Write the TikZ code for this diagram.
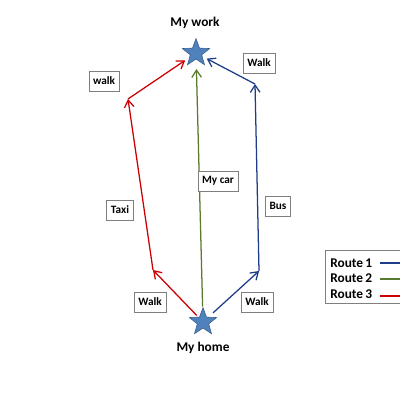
\documentclass[tikz,border=0pt]{standalone}
\usepackage{fontspec}
\setmainfont{Carlito}
\usetikzlibrary{shapes.geometric,arrows.meta}
\definecolor{starblue}{HTML}{4F81BD}
\definecolor{stardark}{HTML}{385D8A}
\definecolor{routeblue}{HTML}{1F3C88}
\definecolor{routegreen}{HTML}{5A7A2E}
\definecolor{routered}{HTML}{CC0000}
\definecolor{boxgray}{HTML}{7F7F7F}
\begin{document}
\begin{tikzpicture}[x=0.025cm,y=-0.025cm,
	place/.style={star,star points=5,star point ratio=2.4,minimum size=7.2mm,inner sep=0pt,fill=starblue,draw=stardark},
	tag/.style={draw=boxgray,fill=white,font=\fontsize{8}{9}\selectfont\bfseries,inner sep=3pt,minimum height=5mm},
	title/.style={font=\fontsize{9.5}{11}\selectfont\bfseries},
	route/.style={line width=0.9pt,-{Straight Barb[length=1.8mm,width=2.4mm]}}]
	\useasboundingbox (0,0) rectangle (400,400);
	\clip (0,0) rectangle (400,400);
	
	% the two places
	\node[place] (work) at (196,53) {};
	\node[place] (home) at (203,322) {};
	\node[title] (worklabel) at (195,23) {My work};
	\node[title] (homelabel) at (203,348) {My home};
	
	% bends of the routes
	\coordinate (redlow) at (153,270);
	\coordinate (redtop) at (128,99);
	\coordinate (bluelow) at (259,271);
	\coordinate (bluetop) at (255,84);
	
	% route 3
	\draw[route,routered,shorten <=0.5mm] (home) -- (redlow);
	\draw[route,routered] (redlow) -- (redtop);
	\draw[route,routered,shorten >=1.2mm] (redtop) -- (work);
	% route 2
	\draw[route,routegreen,shorten <=0.3mm,shorten >=2.4mm] (home) -- (work);
	% route 1
	\draw[route,routeblue,shorten <=1.5mm] (home) -- (bluelow);
	\draw[route,routeblue] (bluelow) -- (bluetop);
	\draw[route,routeblue,shorten >=1.2mm] (bluetop) -- (work);
	
	% labels on the routes
	\node[tag] (walkred) at (104,81) {walk};
	\node[tag] (taxi) at (120,210) {Taxi};
	\node[tag] (walkhomered) at (150,302) {Walk};
	\node[tag] (car) at (218,181) {My car};
	\node[tag] (walkblue) at (259,63) {Walk};
	\node[tag] (bus) at (278,206) {Bus};
	\node[tag] (walkhomeblue) at (257,302) {Walk};
	
	% legend
	\draw[boxgray] (325,250) rectangle (440,303);
	\node[title,anchor=west,inner sep=0pt] (leg1) at (330,263) {Route\,1};
	\node[title,anchor=west,inner sep=0pt] (leg2) at (330,278) {Route\,2};
	\node[title,anchor=west,inner sep=0pt] (leg3) at (330,294) {Route\,3};
	\draw[routeblue,line width=0.9pt] (380,263) -- (420,263);
	\draw[routegreen,line width=0.9pt] (380,279) -- (420,279);
	\draw[routered,line width=0.9pt] (380,296) -- (420,296);
\end{tikzpicture}
\end{document}
